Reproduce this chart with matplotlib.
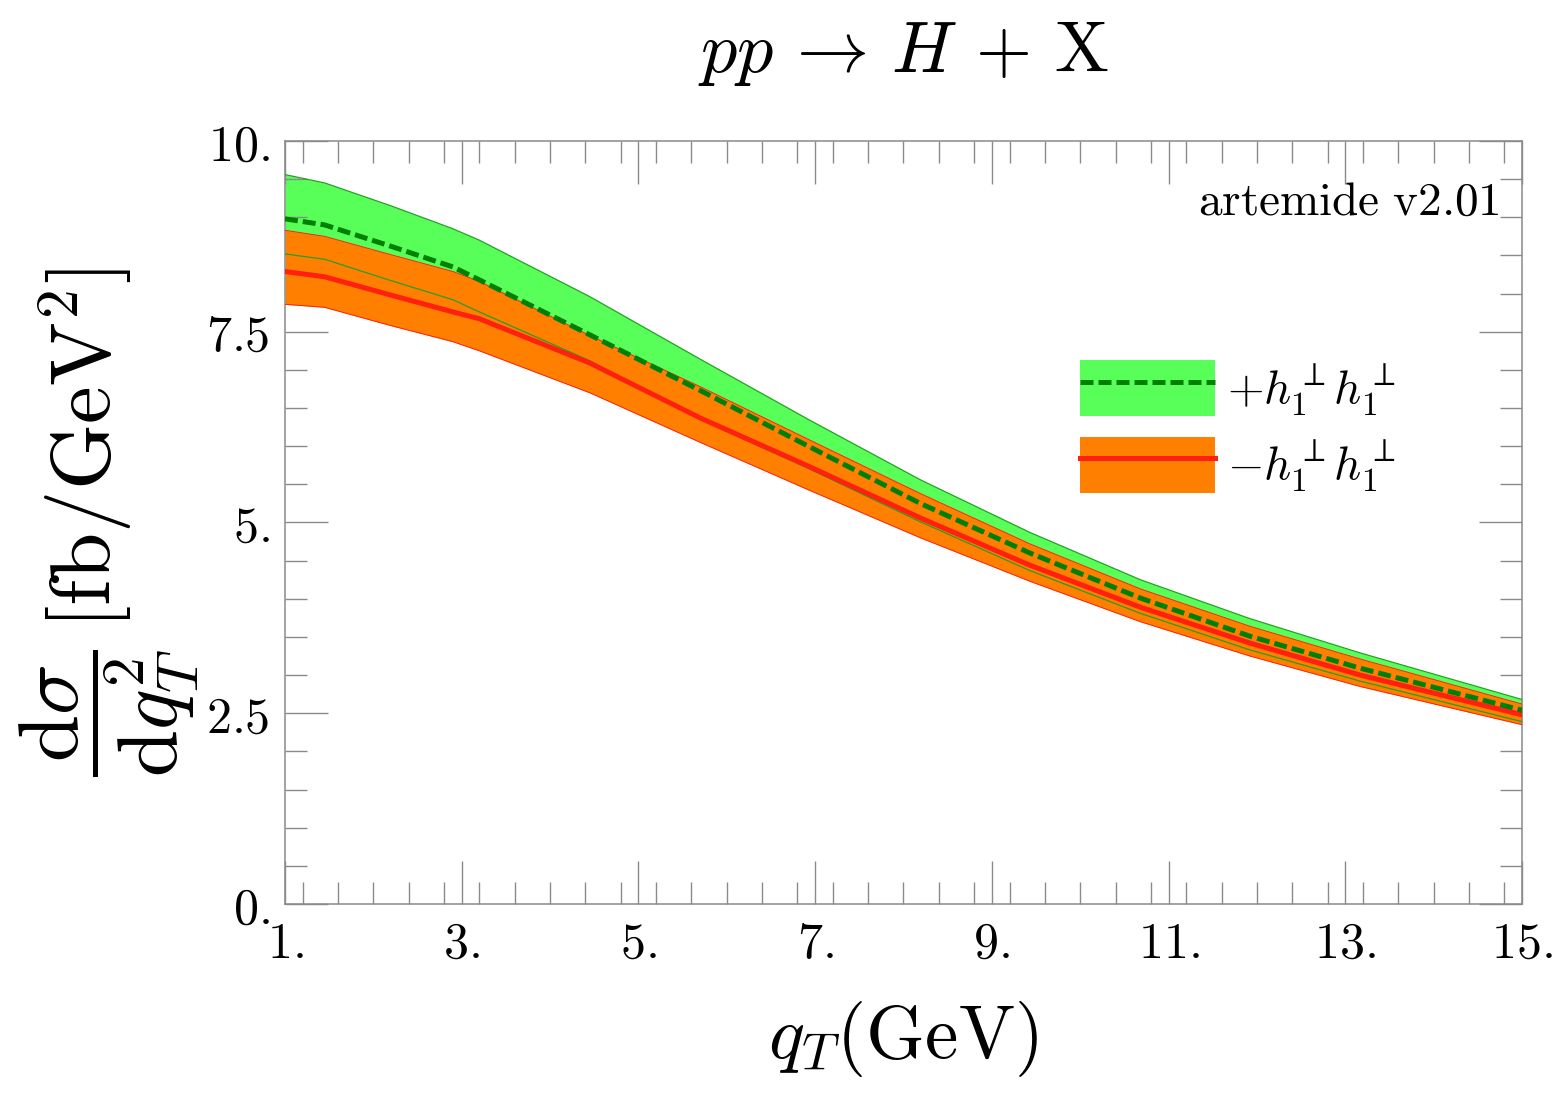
"""
plot.py
Seção de choque diferencial pp -> H + X (bandas +/- h1perp h1perp).
"""

import matplotlib
matplotlib.use("Agg")
import matplotlib.pyplot as plt
import matplotlib.ticker as mticker
import matplotlib.patches as mpatches
from matplotlib.lines import Line2D

plt.rcParams["mathtext.fontset"] = "cm"
plt.rcParams["font.family"] = ["DejaVu Serif"]

# Dados
qT = [1.0, 1.45, 2.2, 2.9, 3.2, 4.45, 5.7, 6.94, 8.19, 9.43, 10.68, 11.92, 13.17, 15.0]

# banda +h1perp h1perp (verde)
mais_sup = [9.56, 9.45, 9.15, 8.85, 8.70, 7.96, 7.14, 6.34, 5.56, 4.87, 4.25, 3.74, 3.29, 2.68]
mais_cen = [8.98, 8.90, 8.62, 8.35, 8.18, 7.46, 6.73, 5.99, 5.25, 4.60, 4.01, 3.51, 3.09, 2.54]
mais_inf = [8.52, 8.45, 8.17, 7.92, 7.76, 7.12, 6.35, 5.70, 5.01, 4.37, 3.81, 3.33, 2.92, 2.39]

# banda -h1perp h1perp (laranja)
menos_sup = [8.83, 8.75, 8.51, 8.29, 8.16, 7.45, 6.78, 6.08, 5.38, 4.72, 4.13, 3.64, 3.21, 2.62]
menos_cen = [8.29, 8.22, 7.98, 7.76, 7.67, 7.09, 6.37, 5.73, 5.06, 4.44, 3.89, 3.42, 3.00, 2.48]
menos_inf = [7.86, 7.82, 7.58, 7.37, 7.25, 6.70, 6.05, 5.42, 4.80, 4.23, 3.70, 3.25, 2.85, 2.35]

x_ticks = [1, 3, 5, 7, 9, 11, 13, 15]
x_labels = ["1.", "3.", "5.", "7.", "9.", "11.", "13.", "15."]
y_ticks = [0, 2.5, 5, 7.5, 10]
y_labels = ["0.", "2.5", "5.", "7.5", "10."]

COR_VERDE = "#59FF59"
COR_VERDE_ESC = "#008000"
COR_BORDA_VERDE = "#22A022"
COR_LARANJA = "#FF8000"
COR_VERMELHO = "#FF2010"
COR_EIXO = "#8a8a8a"

fig = plt.figure(figsize=(15.63, 11.05), dpi=100)
ax = fig.add_axes([0.1823, 0.1819, 0.7915, 0.6905])

ax.fill_between(qT, mais_inf, mais_sup, color=COR_VERDE, lw=0, zorder=1)
ax.fill_between(qT, menos_inf, menos_sup, color=COR_LARANJA, lw=0, zorder=2)
ax.plot(qT, mais_sup, color=COR_BORDA_VERDE, lw=0.9, zorder=3)
ax.plot(qT, mais_inf, color=COR_BORDA_VERDE, lw=0.9, zorder=3)
ax.plot(qT, menos_sup, color=COR_VERMELHO, lw=0.7, zorder=3)
ax.plot(qT, menos_inf, color=COR_VERMELHO, lw=0.7, zorder=3)
ax.plot(qT, mais_cen, color=COR_VERDE_ESC, lw=3.6, ls=(0, (2.6, 1.0)), zorder=5)
ax.plot(qT, menos_cen, color=COR_VERMELHO, lw=3.6, zorder=4)

ax.set_xlim(1, 15)
ax.set_ylim(0, 10)
ax.set_xticks(x_ticks)
ax.set_xticklabels([f"${s}$" for s in x_labels])
ax.set_yticks(y_ticks)
ax.set_yticklabels([f"${s}$" for s in y_labels])
ax.xaxis.set_minor_locator(mticker.MultipleLocator(0.4))
ax.yaxis.set_minor_locator(mticker.MultipleLocator(0.5))
ax.tick_params(which="both", direction="in", top=True, right=True,
               color=COR_EIXO, width=1.0, labelsize=36)
ax.tick_params(which="major", length=31)
ax.tick_params(which="minor", length=16)
ax.tick_params(axis="x", which="major", pad=11)
ax.tick_params(axis="y", which="major", pad=11)
for sp in ax.spines.values():
    sp.set_color(COR_EIXO)
    sp.set_linewidth(1.1)

ax.set_title(r"$pp \,\rightarrow\, H \,+\, \mathrm{X}$", fontsize=52, pad=50)
ax.set_xlabel(r"$q_T(\mathrm{GeV})$", fontsize=54, labelpad=22)
ax.set_ylabel(r"$\dfrac{\mathrm{d}\sigma}{\mathrm{d}q_T^2}\,[\mathrm{fb}/\mathrm{GeV}^2]$",
              fontsize=61, labelpad=4)

ax.text(0.982, 0.92, r"$\mathrm{artemide\ v2.01}$", transform=ax.transAxes,
        ha="right", va="center", fontsize=34)

h_mais = (mpatches.Patch(color=COR_VERDE, lw=0),
          Line2D([], [], color=COR_VERDE_ESC, lw=3.6, ls=(0, (2.6, 1.0))))
h_menos = (mpatches.Patch(color=COR_LARANJA, lw=0),
           Line2D([], [], color=COR_VERMELHO, lw=3.6))
ax.legend([h_mais, h_menos],
          [r"$+h_1^{\perp}h_1^{\perp}$", r"$-h_1^{\perp}h_1^{\perp}$"],
          loc="upper left", bbox_to_anchor=(0.643, 0.713), frameon=False,
          fontsize=34, handlelength=2.85, handleheight=1.45, borderpad=0,
          borderaxespad=0, labelspacing=0.4, handletextpad=0.25)

fig.savefig("out.png", dpi=100, facecolor="white")
